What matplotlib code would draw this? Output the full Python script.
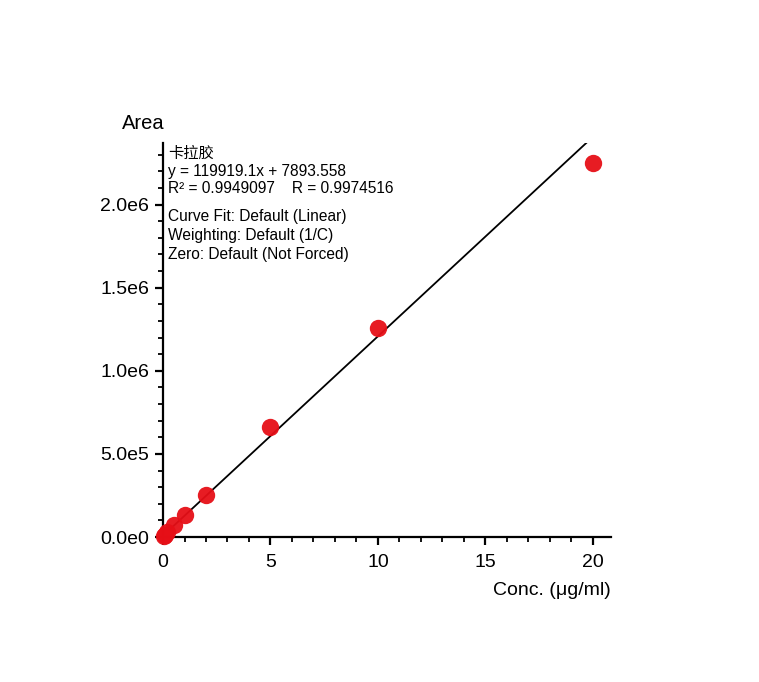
import numpy as np
import matplotlib
matplotlib.use("Agg")
import matplotlib.pyplot as plt
from matplotlib.ticker import MultipleLocator, FuncFormatter

plt.rcParams['font.family'] = ['Liberation Sans', 'Noto Sans CJK SC', 'DejaVu Sans']

# Standard points (conc in ug/ml, peak area)
conc = [0.05, 0.1, 0.2, 0.5, 1, 2, 5, 10, 20]
area = [8000, 15000, 30000, 72000, 135000, 250000, 660000, 1260000, 2250000]

slope = 119919.1
intercept = 7893.558
compound = "卡拉胶"
info_lines = [
    "y = 119919.1x + 7893.558",
    "R² = 0.9949097    R = 0.9974516",
]
fit_lines = [
    "Curve Fit: Default (Linear)",
    "Weighting: Default (1/C)",
    "Zero: Default (Not Forced)",
]

XMAX = 20.85
YMAX = 2.37e6


def sci_fmt(v, _pos):
    if v == 0:
        return "0.0e0"
    e = int(np.floor(np.log10(abs(v))))
    return f"{v / 10**e:.1f}e{e}"


fig = plt.figure(figsize=(7.59, 6.82), dpi=100)
ax = fig.add_axes([0.2148, 0.2126, 0.5902, 0.5777])

# fitted line, from near zero up to the top of the y axis
x_end = (YMAX - intercept) / slope
xs = np.array([0.3, x_end])
ax.plot(xs, slope * xs + intercept, color="black", lw=1.3, zorder=2)

ax.plot(conc, area, "o", color="#e60f17", markersize=12.5, markeredgewidth=0,
        alpha=0.95, clip_on=False, zorder=3)

ax.set_xlim(0, XMAX)
ax.set_ylim(0, YMAX)
for side in ("top", "right"):
    ax.spines[side].set_visible(False)
for side in ("left", "bottom"):
    ax.spines[side].set_linewidth(1.6)

ax.xaxis.set_major_locator(MultipleLocator(5))
ax.xaxis.set_minor_locator(MultipleLocator(1))
ax.yaxis.set_major_locator(MultipleLocator(5e5))
ax.yaxis.set_minor_locator(MultipleLocator(1e5))
ax.yaxis.set_major_formatter(FuncFormatter(sci_fmt))
ax.tick_params(which="major", length=6, width=1.6, labelsize=14, pad=4)
ax.tick_params(axis="x", which="major", pad=6)
ax.tick_params(which="minor", length=3.5, width=1.3)

# axis titles
ax.text(-0.045, 1.05, "Area", transform=ax.transAxes, fontsize=14.5,
        ha="center", va="center")
ax.text(1.0, -0.135, "Conc. (μg/ml)", transform=ax.transAxes, fontsize=14,
        ha="right", va="center")

# annotation block
tx = 0.011
ax.text(tx, 0.975, compound, transform=ax.transAxes, fontsize=11,
        va="center", family=['Noto Sans CJK SC'])
ax.text(tx, 0.928, info_lines[0], transform=ax.transAxes, fontsize=11.2, va="center")
ax.text(tx, 0.885, info_lines[1], transform=ax.transAxes, fontsize=11.2, va="center")
for i, line in enumerate(fit_lines):
    ax.text(tx, 0.813 - i * 0.0485, line, transform=ax.transAxes, fontsize=11.2,
            va="center")

fig.savefig("out.png", dpi=100)
